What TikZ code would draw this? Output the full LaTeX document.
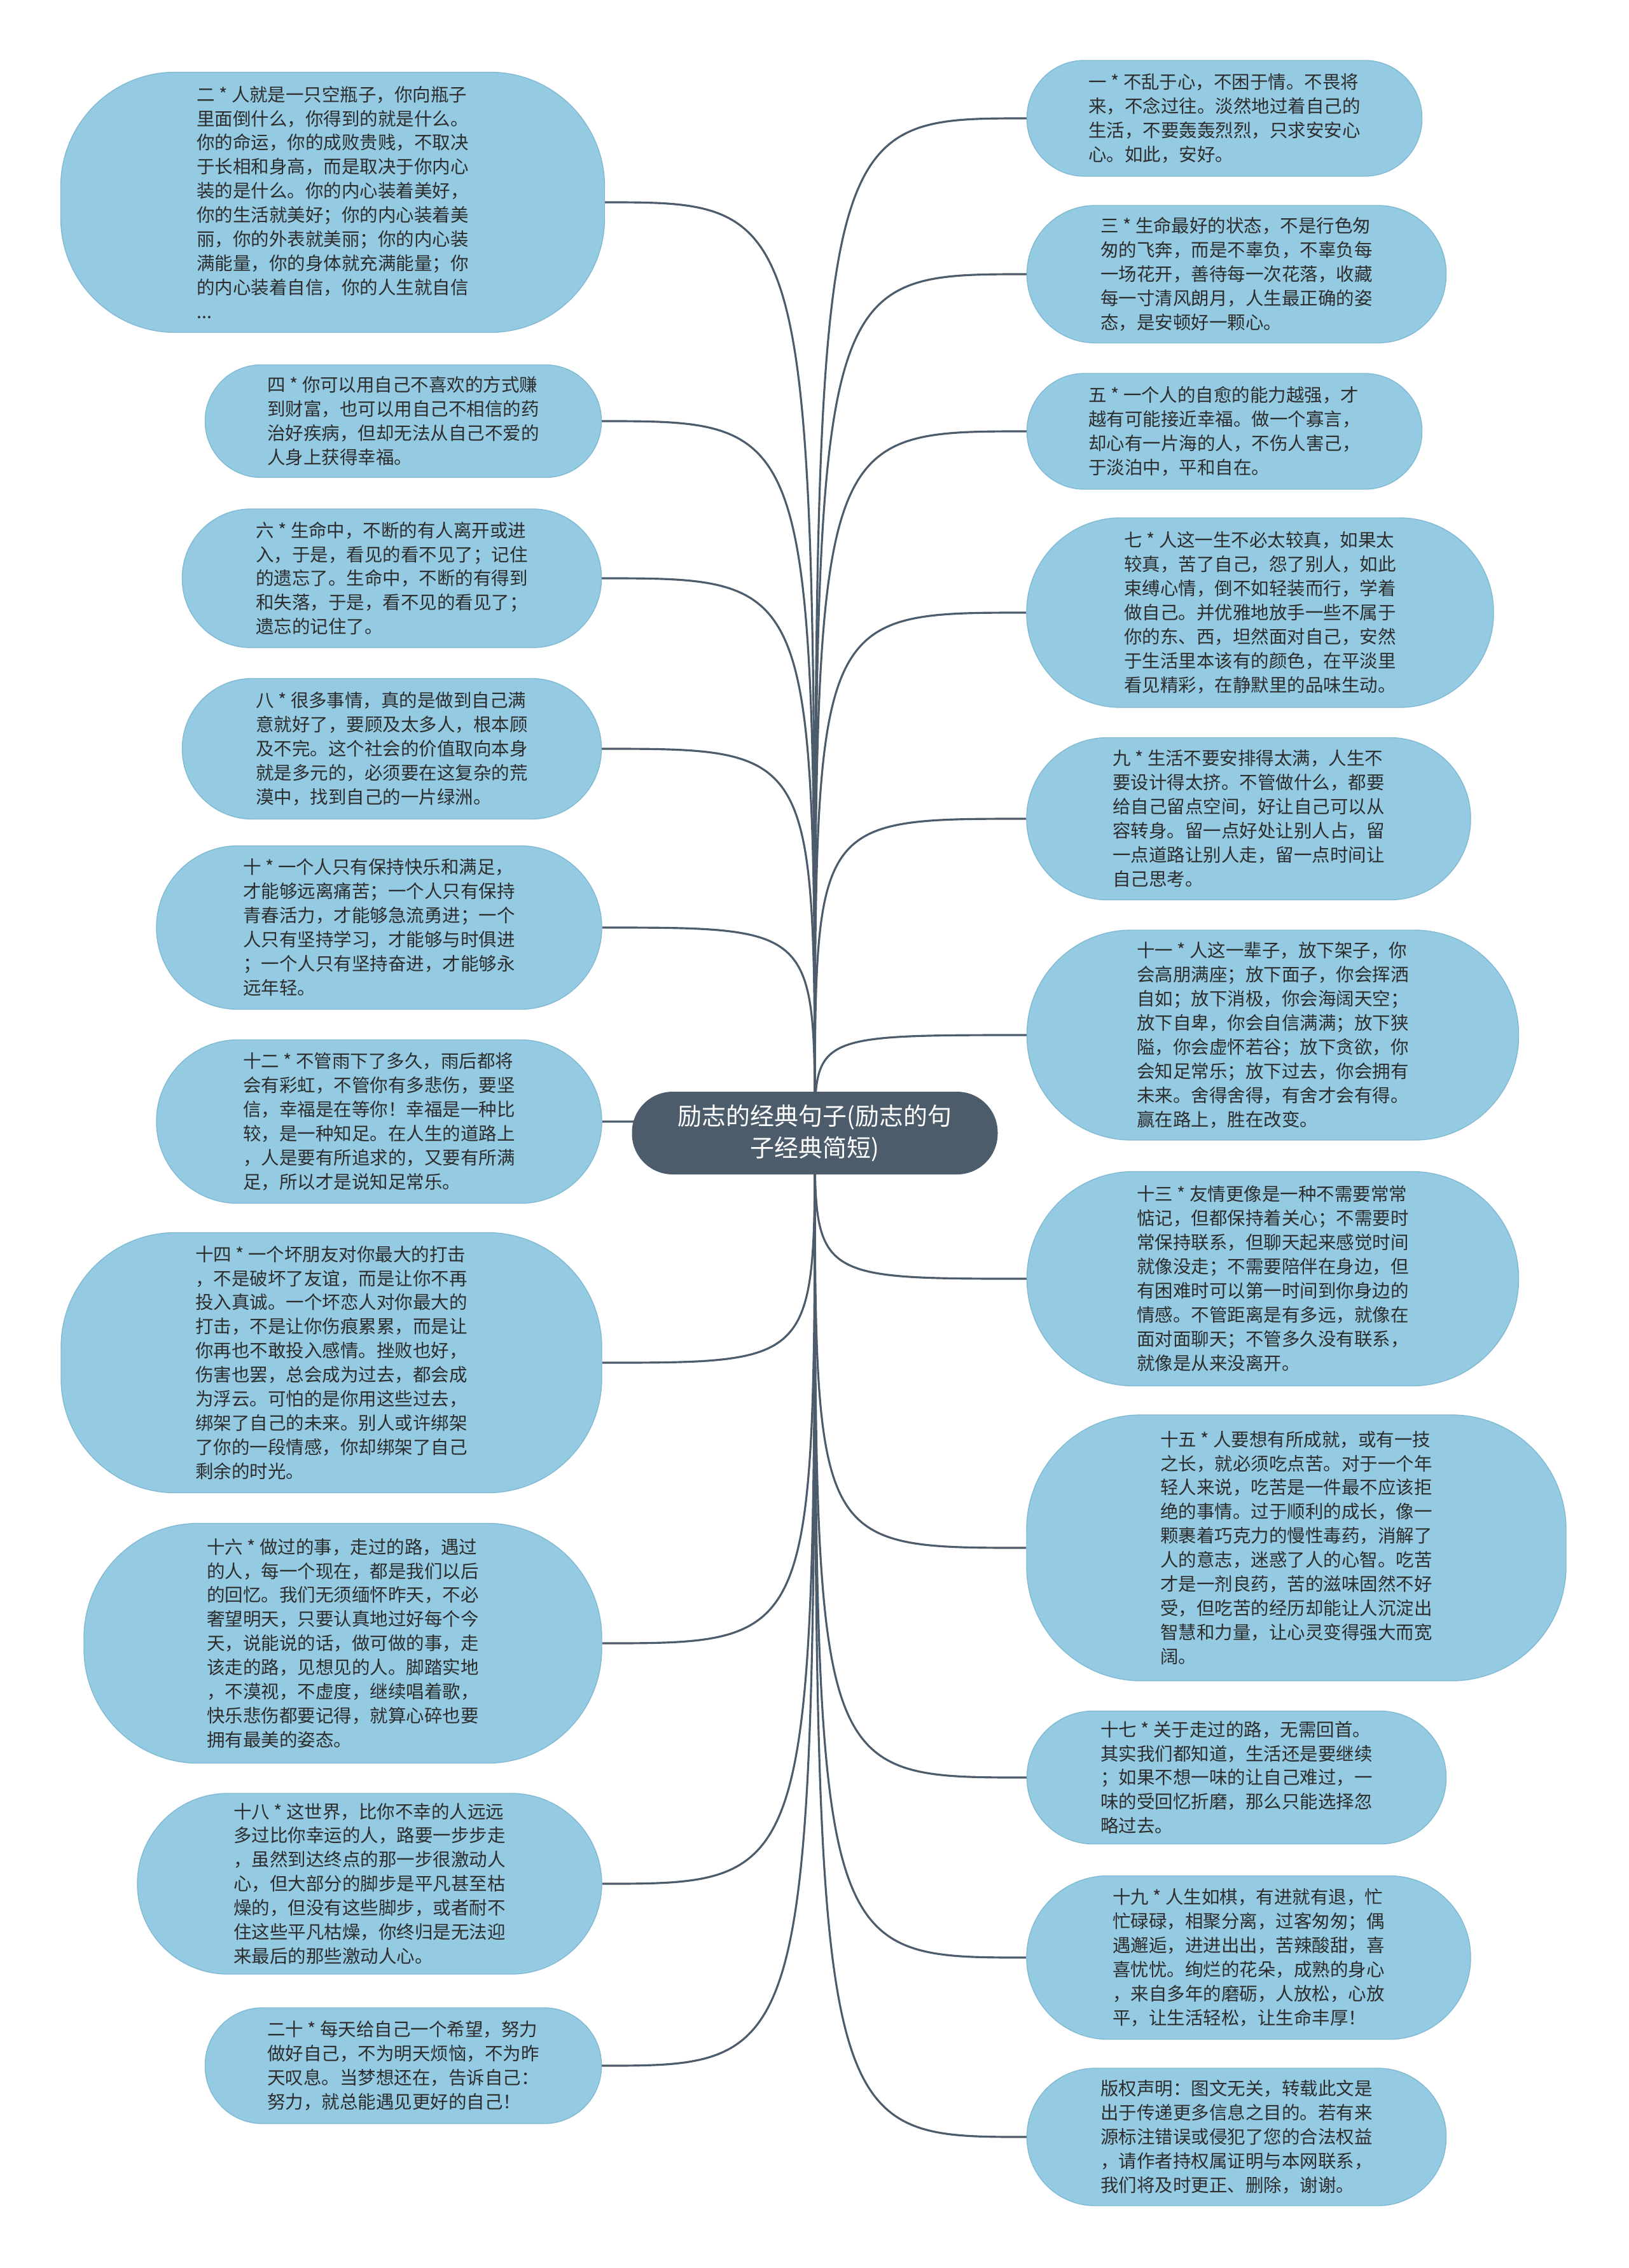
\documentclass[tikz,border=0pt]{standalone}
\usepackage{fontspec}
\setmainfont{Noto Sans CJK SC}
\usetikzlibrary{backgrounds}
\definecolor{RootSlate}{RGB}{76,92,107}
\definecolor{QuoteBlue}{RGB}{148,202,226}
\definecolor{QuoteEdge}{RGB}{130,186,212}
\definecolor{InkGray}{RGB}{45,45,45}

\begin{document}
\begin{tikzpicture}[
    root/.style={rectangle, rounded corners=0.64cm, fill=RootSlate, text=white, font=\fontsize{10.8}{14.2}\selectfont, align=center, minimum width=5.75cm, minimum height=1.3cm, inner sep=0pt},
    quote/.style n args={3}{rectangle, fill=QuoteBlue, draw=QuoteEdge, line width=0.4pt, text=InkGray, font=\fontsize{8.1}{10.8}\selectfont, align=left, inner sep=0pt, minimum width=#1cm, minimum height=#2cm, rounded corners=#3cm},
    branch/.style={draw=RootSlate, line width=0.9pt}
]
\useasboundingbox (0,0) rectangle (25.6,-35.65);

% centre
\node[root] (root) at (12.81,-17.81) {励志的经典句子(励志的句\\子经典简短)};

% left column
\node[quote={8.55}{4.09}{1.8}] (s2) at (5.23,-3.18) {二 * 人就是一只空瓶子，你向瓶子\\里面倒什么，你得到的就是什么。\\你的命运，你的成败贵贱，不取决\\于长相和身高，而是取决于你内心\\装的是什么。你的内心装着美好，\\你的生活就美好；你的内心装着美\\丽，你的外表就美丽；你的内心装\\满能量，你的身体就充满能量；你\\的内心装着自信，你的人生就自信\\...};
\node[quote={6.23}{1.77}{0.88}] (s4) at (6.34,-6.62) {四 * 你可以用自己不喜欢的方式赚\\到财富，也可以用自己不相信的药\\治好疾病，但却无法从自己不爱的\\人身上获得幸福。};
\node[quote={6.59}{2.18}{1.08}] (s6) at (6.16,-9.09) {六 * 生命中，不断的有人离开或进\\入，于是，看见的看不见了；记住\\的遗忘了。生命中，不断的有得到\\和失落，于是，看不见的看见了；\\遗忘的记住了。};
\node[quote={6.59}{2.21}{1.1}] (s8) at (6.16,-11.77) {八 * 很多事情，真的是做到自己满\\意就好了，要顾及太多人，根本顾\\及不完。这个社会的价值取向本身\\就是多元的，必须要在这复杂的荒\\漠中，找到自己的一片绿洲。};
\node[quote={7.00}{2.57}{1.28}] (s10) at (5.96,-14.58) {十 * 一个人只有保持快乐和满足，\\才能够远离痛苦；一个人只有保持\\青春活力，才能够急流勇进；一个\\人只有坚持学习，才能够与时俱进\\；一个人只有坚持奋进，才能够永\\远年轻。};
\node[quote={7.00}{2.57}{1.28}] (s12) at (5.96,-17.63) {十二 * 不管雨下了多久，雨后都将\\会有彩虹，不管你有多悲伤，要坚\\信，幸福是在等你！幸福是一种比\\较，是一种知足。在人生的道路上\\，人是要有所追求的，又要有所满\\足，所以才是说知足常乐。};
\node[quote={8.50}{4.09}{1.8}] (s14) at (5.21,-21.42) {十四 * 一个坏朋友对你最大的打击\\，不是破坏了友谊，而是让你不再\\投入真诚。一个坏恋人对你最大的\\打击，不是让你伤痕累累，而是让\\你再也不敢投入感情。挫败也好，\\伤害也罢，总会成为过去，都会成\\为浮云。可怕的是你用这些过去，\\绑架了自己的未来。别人或许绑架\\了你的一段情感，你却绑架了自己\\剩余的时光。};
\node[quote={8.14}{3.77}{1.8}] (s16) at (5.39,-25.83) {十六 * 做过的事，走过的路，遇过\\的人，每一个现在，都是我们以后\\的回忆。我们无须缅怀昨天，不必\\奢望明天，只要认真地过好每个今\\天，说能说的话，做可做的事，走\\该走的路，见想见的人。脚踏实地\\，不漠视，不虚度，继续唱着歌，\\快乐悲伤都要记得，就算心碎也要\\拥有最美的姿态。};
\node[quote={7.30}{2.84}{1.42}] (s18) at (5.81,-29.61) {十八 * 这世界，比你不幸的人远远\\多过比你幸运的人，路要一步步走\\，虽然到达终点的那一步很激动人\\心，但大部分的脚步是平凡甚至枯\\燥的，但没有这些脚步，或者耐不\\住这些平凡枯燥，你终归是无法迎\\来最后的那些激动人心。};
\node[quote={6.23}{1.82}{0.9}] (s20) at (6.34,-32.47) {二十 * 每天给自己一个希望，努力\\做好自己，不为明天烦恼，不为昨\\天叹息。当梦想还在，告诉自己：\\努力，就总能遇见更好的自己！};

% right column
\node[quote={6.21}{1.82}{0.9}] (s1) at (19.25,-1.86) {一 * 不乱于心，不困于情。不畏将\\来，不念过往。淡然地过着自己的\\生活，不要轰轰烈烈，只求安安心\\心。如此，安好。};
\node[quote={6.59}{2.16}{1.07}] (s3) at (19.44,-4.31) {三 * 生命最好的状态，不是行色匆\\匆的飞奔，而是不辜负，不辜负每\\一场花开，善待每一次花落，收藏\\每一寸清风朗月，人生最正确的姿\\态，是安顿好一颗心。};
\node[quote={6.21}{1.82}{0.9}] (s5) at (19.25,-6.78) {五 * 一个人的自愈的能力越强，才\\越有可能接近幸福。做一个寡言，\\却心有一片海的人，不伤人害己，\\于淡泊中，平和自在。};
\node[quote={7.34}{2.98}{1.48}] (s7) at (19.81,-9.63) {七 * 人这一生不必太较真，如果太\\较真，苦了自己，怨了别人，如此\\束缚心情，倒不如轻装而行，学着\\做自己。并优雅地放手一些不属于\\你的东、西，坦然面对自己，安然\\于生活里本该有的颜色，在平淡里\\看见精彩，在静默里的品味生动。};
\node[quote={6.98}{2.55}{1.27}] (s9) at (19.63,-12.87) {九 * 生活不要安排得太满，人生不\\要设计得太挤。不管做什么，都要\\给自己留点空间，好让自己可以从\\容转身。留一点好处让别人占，留\\一点道路让别人走，留一点时间让\\自己思考。};
\node[quote={7.73}{3.30}{1.64}] (s11) at (20.01,-16.27) {十一 * 人这一辈子，放下架子，你\\会高朋满座；放下面子，你会挥洒\\自如；放下消极，你会海阔天空；\\放下自卑，你会自信满满；放下狭\\隘，你会虚怀若谷；放下贪欲，你\\会知足常乐；放下过去，你会拥有\\未来。舍得舍得，有舍才会有得。\\赢在路上，胜在改变。};
\node[quote={7.73}{3.37}{1.68}] (s13) at (20.01,-20.10) {十三 * 友情更像是一种不需要常常\\惦记，但都保持着关心；不需要时\\常保持联系，但聊天起来感觉时间\\就像没走；不需要陪伴在身边，但\\有困难时可以第一时间到你身边的\\情感。不管距离是有多远，就像在\\面对面聊天；不管多久没有联系，\\就像是从来没离开。};
\node[quote={8.48}{4.18}{1.8}] (s15) at (20.38,-24.33) {十五 * 人要想有所成就，或有一技\\之长，就必须吃点苦。对于一个年\\轻人来说，吃苦是一件最不应该拒\\绝的事情。过于顺利的成长，像一\\颗裹着巧克力的慢性毒药，消解了\\人的意志，迷惑了人的心智。吃苦\\才是一剂良药，苦的滋味固然不好\\受，但吃苦的经历却能让人沉淀出\\智慧和力量，让心灵变得强大而宽\\阔。};
\node[quote={6.59}{2.09}{1.04}] (s17) at (19.44,-27.94) {十七 * 关于走过的路，无需回首。\\其实我们都知道，生活还是要继续\\；如果不想一味的让自己难过，一\\味的受回忆折磨，那么只能选择忽\\略过去。};
\node[quote={6.98}{2.57}{1.28}] (s19) at (19.63,-30.77) {十九 * 人生如棋，有进就有退，忙\\忙碌碌，相聚分离，过客匆匆；偶\\遇邂逅，进进出出，苦辣酸甜，喜\\喜忧忧。绚烂的花朵，成熟的身心\\，来自多年的磨砺，人放松，心放\\平，让生活轻松，让生命丰厚！};
\node[quote={6.59}{2.16}{1.07}] (notice) at (19.44,-33.59) {版权声明：图文无关，转载此文是\\出于传递更多信息之目的。若有来\\源标注错误或侵犯了您的合法权益\\，请作者持权属证明与本网联系，\\我们将及时更正、删除，谢谢。};

% branches
\begin{scope}[on background layer]
\foreach \q in {s2,s4,s6,s8,s10,s12,s14,s16,s18,s20}
    \draw[branch] (root.center) .. controls (root.center |- \q.east) .. (\q.east);
\foreach \q in {s1,s3,s5,s7,s9,s11,s13,s15,s17,s19,notice}
    \draw[branch] (root.center) .. controls (root.center |- \q.west) .. (\q.west);
\end{scope}
\end{tikzpicture}
\end{document}
